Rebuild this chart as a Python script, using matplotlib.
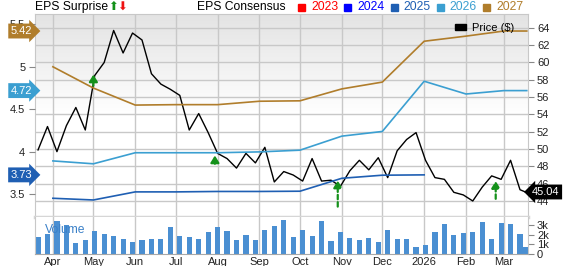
import numpy as np
import pandas as pd
import matplotlib
matplotlib.use('Agg')
import matplotlib.pyplot as plt
import matplotlib.dates as mdates
from matplotlib.colors import LinearSegmentedColormap
from matplotlib.patches import Patch, Rectangle
from matplotlib.ticker import MultipleLocator, FuncFormatter

plt.rcParams['font.family'] = ['Liberation Sans', 'DejaVu Sans']

# weekly price ($) and volume (thousands)
price_dates = list(pd.date_range('2025-03-21', periods=52, freq='7D')) + [pd.Timestamp('2026-03-17')]
price = [49.9, 52.6, 49.7, 52.7, 54.8, 52.2, 58.5, 60.0, 63.7, 61.1, 63.4, 62.6,
         58.7, 57.5, 56.9, 56.2, 52.2, 54.1, 51.9, 49.5, 48.9, 47.8, 49.5, 48.4,
         50.2, 46.2, 47.4, 47.0, 46.3, 48.9, 46.3, 46.4, 45.7, 47.5, 48.7, 47.6,
         49.0, 46.7, 49.8, 51.1, 51.9, 48.7, 46.7, 46.5, 45.0, 44.7, 44.0, 45.6,
         46.9, 46.5, 48.7, 45.3, 45.04]
volume = [1.72, 2.03, 3.40, 2.99, 1.10, 1.44, 2.34, 2.06, 1.89, 1.51, 1.20, 1.44,
          1.58, 1.51, 2.82, 1.86, 1.75, 1.55, 2.30, 2.78, 2.37, 1.41, 1.96, 1.44,
          2.44, 2.92, 3.47, 1.75, 2.48, 1.83, 3.38, 1.31, 2.27, 1.69, 1.48, 1.69,
          1.24, 2.48, 1.51, 1.51, 0.72, 0.93, 2.24, 3.10, 2.00, 2.13, 2.27, 3.31,
          1.55, 3.20, 3.07, 2.10, 0.76]

# monthly EPS consensus
cons_dates = list(pd.date_range('2025-04-01', periods=12, freq='MS')) + [pd.Timestamp('2026-03-18')]
eps_2027 = [5.00, 4.75, 4.55, 4.555, 4.555, 4.595, 4.60, 4.74, 4.82, 5.30, 5.36, 5.42, 5.42]
eps_2026 = [3.894, 3.86, 3.99, 3.99, 3.99, 4.00, 4.02, 4.185, 4.24, 4.83, 4.68, 4.72, 4.72]
eps_2025 = [3.455, 3.435, 3.53, 3.53, 3.535, 3.535, 3.538, 3.69, 3.726, 3.73]

# EPS surprise arrows (date, top, base in price units)
surp_dates = pd.to_datetime(['2025-05-01', '2025-07-30', '2025-10-29', '2026-02-23'])
surp_top = [58.6, 49.25, 46.35, 46.3]
surp_base = [57.3, 48.3, 43.35, 44.25]
surp_dashed = [False, False, True, True]

years = ['2023', '2024', '2025', '2026', '2027']
year_colors = ['#ff0000', '#0000ff', '#1f5fb3', '#3b9fd1', '#b07d2b']

W, H = 568, 266
L, R, T, B, VB = 35, 528, 14, 217, 254

fig = plt.figure(figsize=(W / 100, H / 100), dpi=100)

# background gradient
bg = fig.add_axes([L / W, 1 - B / H, (R - L) / W, (B - T) / H], zorder=-1)
grad = np.linspace(0, 1, 256).reshape(-1, 1)
cmap = LinearSegmentedColormap.from_list('bg', ['#e3e3e3', '#ffffff', '#ffffff'])
bg.imshow(grad, extent=[0, 1, 0, 1], aspect='auto', cmap=cmap)
bg.axis('off')

ax = fig.add_axes([L / W, 1 - B / H, (R - L) / W, (B - T) / H])
ax.patch.set_visible(False)
axv = fig.add_axes([L / W, 1 - VB / H, (R - L) / W, (VB - B) / H], sharex=ax)
axe = ax.twinx()
axe.yaxis.tick_left()
ax.yaxis.tick_right()

grid_c = '#c8c8c8'

# price
ax.plot(price_dates, price, color='black', lw=1.0, zorder=4)
ax.set_ylim(42.15, 65.6)
ax.yaxis.set_major_locator(MultipleLocator(2))
ax.grid(True, color=grid_c, lw=1)
ax.set_axisbelow(True)

# surprise arrows
for d, tp, bs, dsh in zip(surp_dates, surp_top, surp_base, surp_dashed):
    ax.annotate('', xy=(d, tp), xytext=(d, bs),
                arrowprops=dict(arrowstyle='-|>,head_length=0.4,head_width=0.25',
                                color='#14911a', lw=1.6,
                                linestyle=(0, (2, 1.3)) if dsh else '-',
                                shrinkA=0, shrinkB=0), zorder=5)

# consensus lines
axe.plot(cons_dates, eps_2027, color=year_colors[4], lw=1.2)
axe.plot(cons_dates, eps_2026, color=year_colors[3], lw=1.2)
axe.plot(cons_dates[:len(eps_2025)], eps_2025, color=year_colors[2], lw=1.2)
axe.set_ylim(3.235, 5.62)
axe.yaxis.set_major_locator(MultipleLocator(0.5))
axe.yaxis.set_major_formatter(FuncFormatter(lambda v, p: '%g' % v))

for a in (ax, axe):
    for s in a.spines.values():
        s.set_visible(False)
for s in ('top', 'left', 'right'):
    ax.spines[s].set_visible(True)
    ax.spines[s].set_color(grid_c)
ax.spines['bottom'].set_visible(True)
ax.spines['bottom'].set_color('#d6d6d6')
ax.spines['bottom'].set_linewidth(2.5)

ax.tick_params(axis='y', right=True, left=False, labelright=True, labelleft=False,
               length=4, color='#888888', labelsize=8, pad=2.5, labelcolor='#222222')
axe.tick_params(axis='y', left=True, right=False, labelleft=True, labelright=False,
                length=4, color='#888888', labelsize=8, pad=3, labelcolor='#222222')
ax.tick_params(axis='x', length=0, labelbottom=False)

# value tags
for v, c in zip([eps_2027[-1], eps_2026[-1], eps_2025[-1]], year_colors[4:1:-1]):
    axe.annotate('%.2f' % v, xy=(0, v), xycoords=('axes fraction', 'data'),
                 xytext=(-2, 0), textcoords='offset points', ha='right', va='center',
                 color='white', fontsize=8,
                 bbox=dict(boxstyle='rarrow,pad=0.22', fc=c, ec='none'),
                 annotation_clip=False, zorder=10)
axe.annotate('%.2f' % price[-1], xy=(1, price[-1]), xycoords=('axes fraction', ax.transData),
             xytext=(3, 0), textcoords='offset points', ha='left', va='center',
             color='white', fontsize=8,
             bbox=dict(boxstyle='larrow,pad=0.22', fc='black', ec='none'),
             annotation_clip=False, zorder=10)

axe.legend(handles=[Patch(color='black', label='Price ($)')], loc='upper right',
           bbox_to_anchor=(0.985, 0.99), frameon=False, fontsize=8,
           handlelength=1.0, handleheight=0.45, handletextpad=0.5, borderaxespad=0.2)

# volume
axv.bar(price_dates, volume, width=3.8, color='#4a8fd2')
axv.set_ylim(0, 3.83)
axv.set_yticks([0, 1, 2, 3])
axv.yaxis.set_major_formatter(FuncFormatter(lambda v, p: '0' if v == 0 else '%dk' % v))
axv.yaxis.tick_right()
axv.tick_params(axis='y', length=4, color='#888888', labelsize=8, pad=2.5, labelcolor='#222222')
axv.grid(True, axis='x', color=grid_c, lw=1)
axv.set_axisbelow(True)
for s in ('left', 'right'):
    axv.spines[s].set_color(grid_c)
axv.spines['top'].set_visible(False)
axv.spines['bottom'].set_color('#a8a8a8')
axv.text(0.02, 0.64, 'Volume', transform=axv.transAxes, color='#3a80c8', fontsize=8.7,
         ha='left', va='center')

axv.xaxis.set_major_locator(mdates.MonthLocator())
axv.xaxis.set_major_formatter(FuncFormatter(
    lambda v, p: mdates.num2date(v).strftime('%Y' if mdates.num2date(v).month == 1 else '%b')))
axv.tick_params(axis='x', length=0, labelsize=8, pad=2, labelcolor='#222222')
axv.set_xlim(pd.Timestamp('2025-03-18 18:00'), pd.Timestamp('2026-03-18 22:00'))

# header
hy = 1 - 7 / H
fig.text(L / W, hy, 'EPS Surprise', fontsize=8.7, va='center', ha='left')
fig.text(108.5 / W, hy, '\u2b06', color='#14911a', fontsize=8.5, va='center', ha='left',
         family=['DejaVu Sans'])
fig.text(117.5 / W, hy, '\u2b07', color='#ee1111', fontsize=8.5, va='center', ha='left',
         family=['DejaVu Sans'])
fig.text(197 / W, hy, 'EPS Consensus', fontsize=8.7, va='center', ha='left')
x0 = 298
for yr, c in zip(years, year_colors):
    fig.add_artist(Rectangle((x0 / W, 1 - 10.5 / H), 7 / W, 7 / H, color=c,
                             transform=fig.transFigure))
    fig.text((x0 + 13) / W, hy, yr, color=c, fontsize=8.7, va='center', ha='left')
    x0 += 46.3

fig.savefig('out.png', dpi=100)
